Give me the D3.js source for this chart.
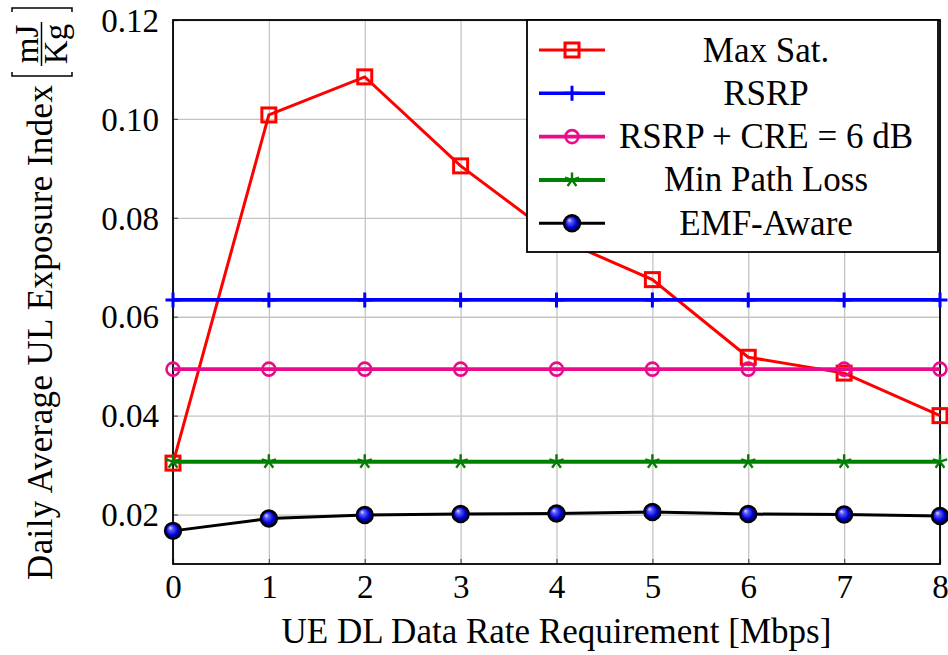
<!DOCTYPE html>
<html>
<head>
<meta charset="utf-8">
<script src="https://cdn.jsdelivr.net/npm/d3@7"></script>
<style>
  html, body { margin: 0; padding: 0; background: #fff; }
  svg { display: block; }
</style>
</head>
<body>
<svg id="chart" width="948" height="655"></svg>
<script>
// UE DL data rate requirement [Mbps]
const rates = [0, 1, 2, 3, 4, 5, 6, 7, 8];

// Daily average UL exposure index [mJ/Kg] per association policy
const maxSat      = [0.0304, 0.1008, 0.1085, 0.0905, 0.0760, 0.0675, 0.0518, 0.0486, 0.0400];
const rsrp        = [0.0634, 0.0634, 0.0634, 0.0634, 0.0634, 0.0634, 0.0634, 0.0634, 0.0634];
const rsrpCre     = [0.0494, 0.0494, 0.0494, 0.0494, 0.0494, 0.0494, 0.0494, 0.0494, 0.0494];
const minPathLoss = [0.0307, 0.0307, 0.0307, 0.0307, 0.0307, 0.0307, 0.0307, 0.0307, 0.0307];
const emfAware    = [0.0167, 0.0192, 0.0199, 0.0201, 0.0202, 0.0205, 0.0201, 0.0200, 0.0197];

const seriesNames = ["Max Sat.", "RSRP", "RSRP + CRE = 6 dB", "Min Path Loss", "EMF-Aware"];

const xTicks = [0, 1, 2, 3, 4, 5, 6, 7, 8];
const yTicks = [0.02, 0.04, 0.06, 0.08, 0.10, 0.12];

const xLabel = "UE DL Data Rate Requirement [Mbps]";
const yLabel = "Daily Average UL Exposure Index";
const yUnitNum = "mJ";
const yUnitDen = "Kg";

const FONT = "'Liberation Serif', 'DejaVu Serif', serif";

const svg = d3.select("#chart");

const plot = { left: 173, right: 940, top: 20, bottom: 564 };
const x = d3.scaleLinear().domain([0, 8]).range([plot.left, plot.right]);
const y = d3.scaleLinear().domain([0.01, 0.12]).range([plot.bottom, plot.top]);

// ball shading for the EMF-Aware markers
const defs = svg.append("defs");
const grad = defs.append("radialGradient")
  .attr("id", "ball").attr("cx", "50%").attr("cy", "50%").attr("r", "55%")
  .attr("fx", "32%").attr("fy", "30%");
[["0%", "#e0e0ff"], ["25%", "#5a5aff"], ["65%", "#0000d0"], ["100%", "#00005a"]]
  .forEach(([o, c]) => grad.append("stop").attr("offset", o).attr("stop-color", c));

// grid
const grid = svg.append("g");
grid.append("g")
  .attr("transform", `translate(0,${plot.bottom})`)
  .call(d3.axisBottom(x).tickValues(xTicks).tickSize(-(plot.bottom - plot.top)).tickFormat(""))
  .call(g => g.select(".domain").remove())
  .call(g => g.selectAll("line").attr("stroke", "#c4c4c4").attr("stroke-width", 1.3));
grid.append("g")
  .attr("transform", `translate(${plot.left},0)`)
  .call(d3.axisLeft(y).tickValues(yTicks).tickSize(-(plot.right - plot.left)).tickFormat(""))
  .call(g => g.select(".domain").remove())
  .call(g => g.selectAll("line").attr("stroke", "#c4c4c4").attr("stroke-width", 1.3));

// inner tick marks
const tickG = svg.append("g");
tickG.append("g")
  .attr("transform", `translate(0,${plot.bottom})`)
  .call(d3.axisBottom(x).tickValues(xTicks).tickSize(-5).tickFormat(""))
  .call(g => g.select(".domain").remove())
  .call(g => g.selectAll("line").attr("stroke", "#555").attr("stroke-width", 1.2));
tickG.append("g")
  .attr("transform", `translate(${plot.left},0)`)
  .call(d3.axisLeft(y).tickValues(yTicks).tickSize(-5).tickFormat(""))
  .call(g => g.select(".domain").remove())
  .call(g => g.selectAll("line").attr("stroke", "#555").attr("stroke-width", 1.2));

// tick labels
svg.append("g")
  .attr("transform", `translate(0,${plot.bottom})`)
  .call(d3.axisBottom(x).tickValues(xTicks).tickSize(0).tickPadding(0).tickFormat(d3.format("d")))
  .attr("font-family", FONT)
  .call(g => g.select(".domain").remove())
  .call(g => g.selectAll("text")
    .attr("y", 34).attr("dy", null)
    .style("font-family", FONT).style("font-size", "33px").attr("fill", "#000"));
svg.append("g")
  .attr("transform", `translate(${plot.left},0)`)
  .call(d3.axisLeft(y).tickValues(yTicks).tickSize(0).tickPadding(0).tickFormat(d3.format(".2f")))
  .attr("font-family", FONT)
  .call(g => g.select(".domain").remove())
  .call(g => g.selectAll("text")
    .attr("x", -14).attr("dy", "0.34em")
    .style("font-family", FONT).style("font-size", "33px").attr("fill", "#000"));

// frame
svg.append("rect")
  .attr("x", plot.left).attr("y", plot.top)
  .attr("width", plot.right - plot.left).attr("height", plot.bottom - plot.top)
  .attr("fill", "none").attr("stroke", "#000").attr("stroke-width", 1.8);

// marker drawers
const markers = {
  square: (g, s) => g.append("rect").attr("x", -7).attr("y", -7).attr("width", 14).attr("height", 14)
    .attr("fill", "none").attr("stroke", s.color).attr("stroke-width", 3),
  plus: (g, s) => g.append("path").attr("d", "M-7.5,0H7.5M0,-7.5V7.5")
    .attr("fill", "none").attr("stroke", s.color).attr("stroke-width", 3),
  circle: (g, s) => g.append("circle").attr("r", 6.5)
    .attr("fill", "none").attr("stroke", s.color).attr("stroke-width", 2.6),
  star: (g, s) => g.append("path")
    .attr("d", d3.range(5).map(i => {
      const a = -Math.PI / 2 + i * 2 * Math.PI / 5;
      return `M0,0L${(7.5 * Math.cos(a)).toFixed(2)},${(7.5 * Math.sin(a)).toFixed(2)}`;
    }).join(""))
    .attr("fill", "none").attr("stroke", s.color).attr("stroke-width", 2.4),
  ball: (g, s) => g.append("circle").attr("r", 8)
    .attr("fill", "url(#ball)").attr("stroke", "#000").attr("stroke-width", 2.4)
};

const series = [
  { name: seriesNames[0], values: maxSat,      color: "#ff0000", width: 3,   marker: "square" },
  { name: seriesNames[1], values: rsrp,        color: "#0000ff", width: 3.6, marker: "plus" },
  { name: seriesNames[2], values: rsrpCre,     color: "#ec0a8c", width: 3.6, marker: "circle" },
  { name: seriesNames[3], values: minPathLoss, color: "#008000", width: 4,   marker: "star" },
  { name: seriesNames[4], values: emfAware,    color: "#000000", width: 3,   marker: "ball" }
];

const line = d3.line().x(d => x(d[0])).y(d => y(d[1]));

series.forEach(s => {
  const pts = rates.map((r, i) => [r, s.values[i]]);
  const g = svg.append("g");
  g.append("path").attr("d", line(pts))
    .attr("fill", "none").attr("stroke", s.color).attr("stroke-width", s.width)
    .attr("stroke-linejoin", "miter");
  pts.forEach(p => {
    const m = g.append("g").attr("transform", `translate(${x(p[0])},${y(p[1])})`);
    markers[s.marker](m, s);
  });
});

// legend
const legend = svg.append("g");
legend.append("rect")
  .attr("x", 527).attr("y", 20).attr("width", 411).attr("height", 232)
  .attr("fill", "#fff").attr("stroke", "#000").attr("stroke-width", 1.8);
series.forEach((s, i) => {
  const cy = 50 + i * 43.3;
  legend.append("line").attr("x1", 539).attr("x2", 605).attr("y1", cy).attr("y2", cy)
    .attr("stroke", s.color).attr("stroke-width", s.width);
  const m = legend.append("g").attr("transform", `translate(572,${cy})`);
  markers[s.marker](m, s);
  legend.append("text").attr("x", 766).attr("y", cy + 11.5)
    .attr("text-anchor", "middle")
    .style("font-family", FONT).style("font-size", "35px").text(s.name);
});

// x axis title
svg.append("text")
  .attr("x", (plot.left + plot.right) / 2).attr("y", 643)
  .attr("text-anchor", "middle")
  .style("font-family", FONT).style("font-size", "35px").text(xLabel);

// y axis title with bracketed fraction unit
const yt = svg.append("g").attr("transform", "translate(52,292) rotate(-90)");
yt.append("text").attr("x", -288).attr("y", 0)
  .attr("textLength", 495).attr("lengthAdjust", "spacing")
  .style("font-family", FONT).style("font-size", "35px").text(yLabel);
yt.append("text").attr("x", 248).attr("y", -14).attr("text-anchor", "middle")
  .style("font-family", FONT).style("font-size", "33px").text(yUnitNum);
yt.append("text").attr("x", 248).attr("y", 15).attr("text-anchor", "middle")
  .style("font-family", FONT).style("font-size", "33px").text(yUnitDen);
yt.append("line").attr("x1", 226).attr("x2", 270).attr("y1", -10.5).attr("y2", -10.5)
  .attr("stroke", "#000").attr("stroke-width", 1.5);
yt.append("path").attr("d", "M220,-40H216V20H220M280,-40H284V20H280")
  .attr("fill", "none").attr("stroke", "#000").attr("stroke-width", 1.5);
</script>
</body>
</html>
